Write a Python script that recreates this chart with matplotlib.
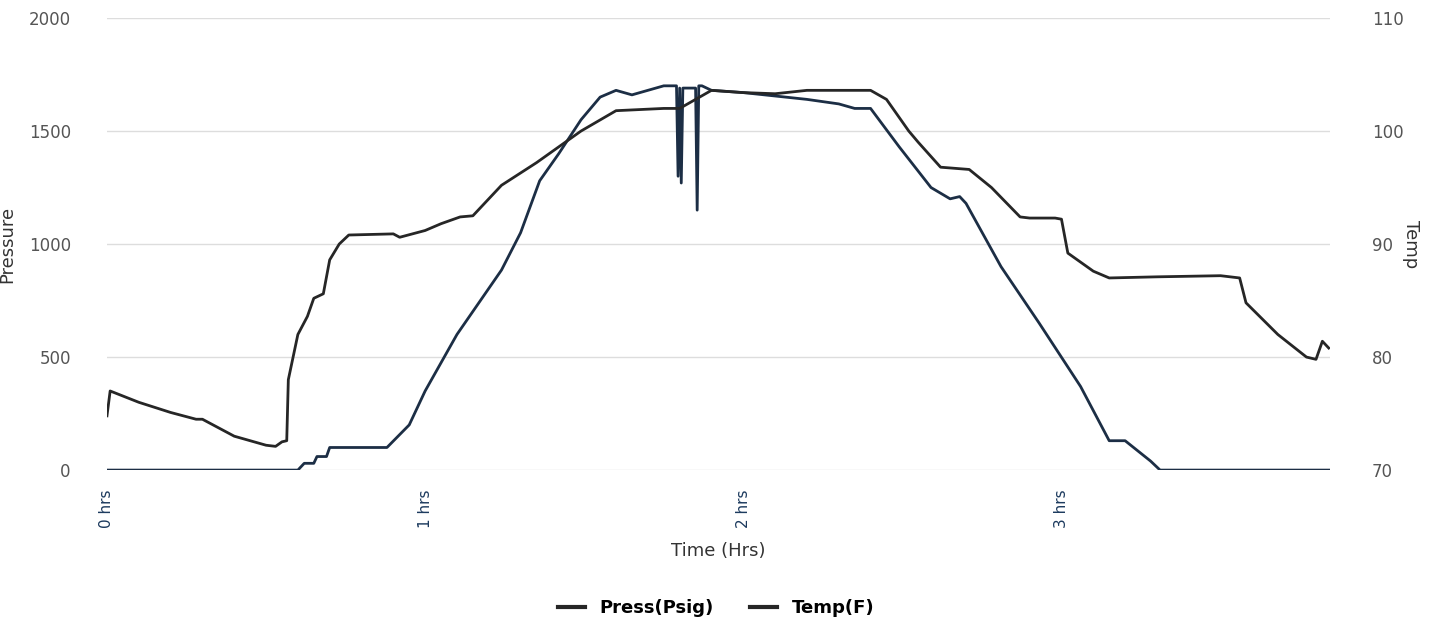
import matplotlib
matplotlib.use("Agg")
import matplotlib.pyplot as plt
from matplotlib.lines import Line2D

temp_t = [0.0,0.01,0.1,0.2,0.28,0.3,0.4,0.5,0.53,0.55,0.565,0.57,0.6,0.63,0.65,0.68,0.7,0.73,0.76,0.9,0.92,1.0,1.05,1.11,1.15,1.2,1.24,1.35,1.49,1.6,1.75,1.78,1.8,1.9,2.0,2.1,2.2,2.4,2.45,2.52,2.55,2.62,2.71,2.78,2.87,2.9,2.98,3.0,3.02,3.1,3.15,3.3,3.5,3.56,3.58,3.68,3.77,3.8,3.82,3.84]
temp_p = [240,350,300,255,225,225,150,110,105,125,130,400,600,680,760,780,930,1000,1040,1045,1030,1060,1090,1120,1125,1200,1260,1360,1500,1590,1600,1600,1600,1680,1670,1665,1680,1680,1640,1500,1450,1340,1330,1250,1120,1115,1115,1110,960,880,850,855,860,850,740,600,500,490,570,540]
temp_f = [70 + p / 50 for p in temp_p]

press_t = [0.0,0.6,0.62,0.65,0.66,0.69,0.7,0.88,0.95,1.0,1.1,1.24,1.3,1.36,1.42,1.49,1.55,1.6,1.65,1.75,1.79,1.795,1.8,1.805,1.81,1.85,1.855,1.86,1.865,1.87,1.9,2.0,2.2,2.3,2.35,2.4,2.49,2.59,2.65,2.68,2.7,2.81,2.93,3.06,3.15,3.2,3.28,3.31,3.84]
press_p = [0,0,30,30,60,60,100,100,200,350,600,885,1050,1280,1400,1550,1650,1680,1660,1700,1700,1300,1690,1270,1690,1690,1150,1700,1700,1700,1680,1670,1640,1620,1600,1600,1430,1250,1200,1210,1180,900,650,370,130,130,40,0,0]

xticks = [0, 1, 2, 3]
xticklabels = ["0 hrs", "1 hrs", "2 hrs", "3 hrs"]

fig = plt.figure(figsize=(14.32, 6.21), dpi=100)
ax = fig.add_axes([0.0747, 0.243, 0.8543, 0.728])
ax2 = ax.twinx()
ax.plot(press_t, press_p, color="#1c2e45", lw=2)
ax2.plot(temp_t, temp_f, color="#262626", lw=2)
ax.set_xlim(0, 3.845)
ax.set_ylim(0, 2000)
ax2.set_ylim(70, 110)
ax.set_yticks([0, 500, 1000, 1500, 2000])
ax2.set_yticks([70, 80, 90, 100, 110])
ax.grid(axis="y", color="#dddddd", lw=1)
ax.set_xticks(xticks)
ax.set_xticklabels(xticklabels, rotation=90, color="#1c3a5e", fontsize=11)
for a in (ax, ax2):
    for s in a.spines.values():
        s.set_visible(False)
    a.tick_params(length=0, labelsize=12, labelcolor="#555555")
ax.tick_params(axis="x", labelcolor="#1c3a5e", labelsize=11, pad=14)
ax.tick_params(axis="y", pad=26)
ax2.tick_params(axis="y", pad=30)
ax.set_ylabel("Pressure", fontsize=13, color="#333333")
ax.yaxis.set_label_coords(-0.074, 0.5)
ax2.set_ylabel("Temp", fontsize=13, color="#333333", rotation=270, va="center")
ax2.yaxis.set_label_coords(1.066, 0.5)
ax.set_xlabel("Time (Hrs)", fontsize=13, color="#333333", labelpad=10)
handles = [Line2D([], [], color="#262626", lw=3), Line2D([], [], color="#262626", lw=3)]
fig.legend(handles, ["Press(Psig)", "Temp(F)"], loc="lower center", bbox_to_anchor=(0.5, -0.02),
           ncol=2, frameon=False, prop={"weight": "bold", "size": 13}, handlelength=1.5)
fig.savefig("out.png")
